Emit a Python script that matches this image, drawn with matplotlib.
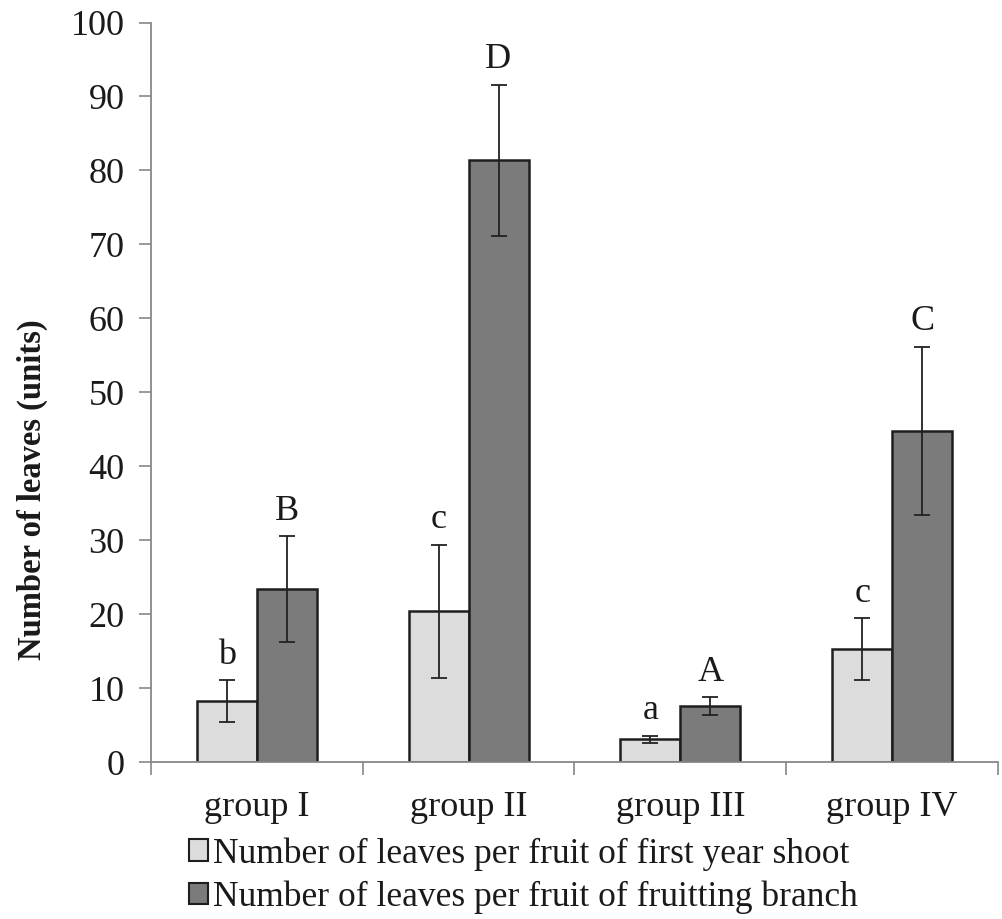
import matplotlib
matplotlib.use("Agg")
import matplotlib.pyplot as plt
import numpy as np
from matplotlib.patches import Patch

groups = ["group I", "group II", "group III", "group IV"]
shoot_mean = [8.3, 20.4, 3.1, 15.3]
shoot_err = [2.8, 9.0, 0.5, 4.2]
branch_mean = [23.4, 81.4, 7.6, 44.8]
branch_err = [7.2, 10.2, 1.2, 11.4]
shoot_letters = ["b", "c", "a", "c"]
branch_letters = ["B", "D", "A", "C"]
series_labels = ["Number of leaves per fruit of first year shoot",
                 "Number of leaves per fruit of fruitting branch"]

plt.rcParams["font.family"] = ["Liberation Serif", "DejaVu Serif"]

fig = plt.figure(figsize=(10.03, 9.19), dpi=100)
ax = fig.add_axes([0.1505, 0.1705, 0.8445, 0.805])

x = np.arange(len(groups))
w = 0.283
light = "#dcdcdc"
dark = "#7b7b7b"
edge = "#1e1e1e"
err_kw = dict(ecolor="#222222", elinewidth=1.3, capsize=5.8, capthick=1.3)

ax.bar(x - w / 2, shoot_mean, w, color=light, edgecolor=edge, linewidth=1.8,
       yerr=shoot_err, error_kw=err_kw, zorder=2)
ax.bar(x + w / 2, branch_mean, w, color=dark, edgecolor=edge, linewidth=1.8,
       yerr=branch_err, error_kw=err_kw, zorder=2)

for xi, m, e, t in zip(x - w / 2, shoot_mean, shoot_err, shoot_letters):
    ax.annotate(t, (xi, m + e), xytext=(0, 6), textcoords="offset points",
                ha="center", va="bottom", fontsize=26, color="#1a1a1a")
for xi, m, e, t in zip(x + w / 2, branch_mean, branch_err, branch_letters):
    ax.annotate(t, (xi, m + e), xytext=(0, 6), textcoords="offset points",
                ha="center", va="bottom", fontsize=26, color="#1a1a1a")

ax.set_xlim(-0.5, len(groups) - 0.5)
ax.set_ylim(0, 100)
ax.set_yticks(np.arange(0, 101, 10))
ax.tick_params(axis="y", labelsize=26, length=9, width=1.2, color="#888888",
               pad=10, labelcolor="#1a1a1a")
ax.set_xticks(x)
ax.set_xticklabels(groups)
ax.set_xticks(np.arange(-0.5, len(groups) + 0.5, 1), minor=True)
ax.tick_params(axis="x", which="major", length=0, labelsize=26, pad=21,
               labelcolor="#1a1a1a")
ax.tick_params(axis="x", which="minor", length=9, width=1.2, color="#888888",
               direction="out")

for s in ["top", "right"]:
    ax.spines[s].set_visible(False)
for s in ["left", "bottom"]:
    ax.spines[s].set_color("#888888")
    ax.spines[s].set_linewidth(1.3)

ax.set_ylabel("Number of leaves (units)", fontsize=23.5, fontweight="bold",
              color="#1a1a1a")
ax.yaxis.set_label_coords(-0.122, 0.368)

handles = [Patch(facecolor=light, edgecolor=edge, linewidth=1.5),
           Patch(facecolor=dark, edgecolor=edge, linewidth=1.5)]
fig.legend(handles, series_labels, loc="upper left",
           bbox_to_anchor=(0.188, 0.089), frameon=False, fontsize=25.5,
           handlelength=0.56, handleheight=0.56, handletextpad=0.13,
           labelspacing=0.28, borderpad=0, borderaxespad=0,
           labelcolor="#1a1a1a")

fig.savefig("out.png", dpi=100)
